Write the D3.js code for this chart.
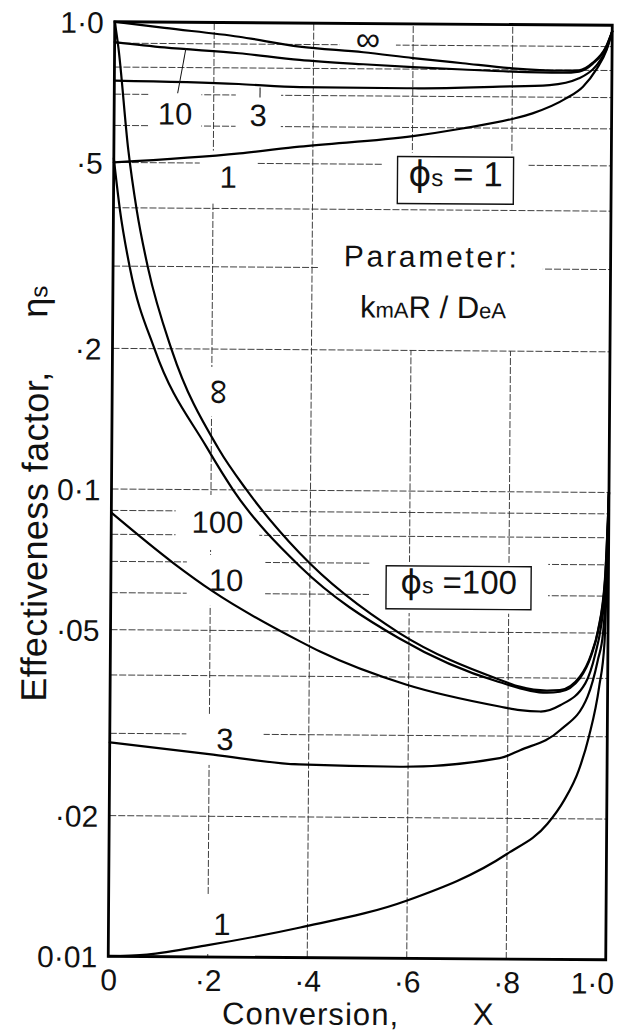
<!DOCTYPE html>
<html><head><meta charset="utf-8">
<script src="https://cdn.jsdelivr.net/npm/d3@7/dist/d3.min.js"></script>
<style>
html,body{margin:0;padding:0;background:#fff;}
svg{display:block;}
text{font-family:"Liberation Sans",Arial,sans-serif;fill:#111;}
</style></head><body>
<svg id="chart" width="626" height="1034" xmlns="http://www.w3.org/2000/svg"></svg>
<script>
// ===== Data =====
const xTickValues = [0, 0.2, 0.4, 0.6, 0.8, 1.0];
const xTickLabels = ["0", "·2", "·4", "·6", "·8", "1·0"];
const yTickValues = [1.0, 0.5, 0.2, 0.1, 0.05, 0.02, 0.01];
const yTickLabels = ["1·0", "·5", "·2", "0·1", "·05", "·02", "0·01"];
const yGridValues = [0.9, 0.8, 0.7, 0.6, 0.5, 0.4, 0.3, 0.2, 0.1, 0.09, 0.08, 0.07, 0.06, 0.05, 0.04, 0.03, 0.02];
const xGridValues = [0.2, 0.4, 0.6, 0.8];

// phi_s = 1 family, parameter kmA R / DeA
const phi1InfX   = [0, 0.1, 0.25, 0.372, 0.5, 0.6, 0.7, 0.8, 0.9, 0.934, 0.961, 0.988, 1.0];
const phi1InfEta = [1.0, 0.972, 0.933, 0.89, 0.868, 0.845, 0.825, 0.806, 0.798, 0.80, 0.83, 0.90, 0.97];
const phi1K10X   = [0, 0.1, 0.25, 0.372, 0.5, 0.6, 0.7, 0.8, 0.9, 0.934, 0.961, 0.988, 1.0];
const phi1K10Eta = [0.905, 0.883, 0.86, 0.834, 0.818, 0.808, 0.80, 0.793, 0.79, 0.795, 0.826, 0.897, 0.97];
const phi1K3X    = [0, 0.25, 0.373, 0.6, 0.774, 0.875, 0.934, 0.968, 0.988, 1.0];
const phi1K3Eta  = [0.748, 0.739, 0.729, 0.728, 0.736, 0.743, 0.769, 0.818, 0.885, 0.97];
const phi1K1X    = [0, 0.253, 0.373, 0.601, 0.70, 0.80, 0.841, 0.909, 0.942, 0.969, 0.989, 1.0];
const phi1K1Eta  = [0.5, 0.525, 0.544, 0.575, 0.598, 0.628, 0.646, 0.697, 0.738, 0.805, 0.885, 0.97];

// phi_s = 100 family
const phi100InfX    = [0, 0.0074, 0.029, 0.0467, 0.0705, 0.119, 0.214, 0.2715, 0.3795, 0.5815, 0.783, 0.823, 0.877, 0.904, 0.944, 0.967, 0.98, 0.993, 1.0];
const phi100InfEta  = [1.0, 0.885, 0.532, 0.396, 0.297, 0.199, 0.1227, 0.1, 0.0733, 0.0496, 0.0396, 0.0383, 0.0376, 0.0377, 0.0403, 0.0452, 0.0508, 0.065, 0.1];
const phi100K100X   = [0, 0.013, 0.034, 0.085, 0.19, 0.245, 0.38, 0.58, 0.78, 0.877, 0.904, 0.944, 0.967, 0.98, 0.993, 1.0];
const phi100K100Eta = [0.51, 0.396, 0.297, 0.199, 0.1236, 0.0998, 0.0687, 0.0484, 0.0392, 0.0372, 0.0374, 0.0400, 0.0449, 0.0505, 0.064, 0.1];
const phi100K10X    = [0, 0.126, 0.206, 0.381, 0.4215, 0.596, 0.783, 0.824, 0.865, 0.905, 0.955, 0.975, 0.985, 0.995, 1.0];
const phi100K10Eta  = [0.089, 0.0695, 0.0605, 0.0475, 0.0452, 0.0385, 0.0347, 0.0341, 0.0339, 0.035, 0.039, 0.0452, 0.051, 0.065, 0.1];
const phi100K3X     = [0, 0.208, 0.381, 0.5835, 0.784, 0.825, 0.906, 0.96, 0.98, 0.99, 0.996, 1.0];
const phi100K3Eta   = [0.0287, 0.0271, 0.0259, 0.0257, 0.0269, 0.028, 0.031, 0.0366, 0.0438, 0.05, 0.065, 0.1];
const phi100K1X     = [0, 0.078, 0.2, 0.3855, 0.6, 0.8006, 0.881, 0.914, 0.943, 0.963, 0.983, 0.993, 1.0];
const phi100K1Eta   = [0.01, 0.0101, 0.0106, 0.0116, 0.0133, 0.0168, 0.0195, 0.0219, 0.0254, 0.030, 0.0384, 0.0475, 0.1];

const series = [
  {X: phi1InfX, eta: phi1InfEta}, {X: phi1K10X, eta: phi1K10Eta},
  {X: phi1K3X, eta: phi1K3Eta}, {X: phi1K1X, eta: phi1K1Eta},
  {X: phi100InfX, eta: phi100InfEta}, {X: phi100K100X, eta: phi100K100Eta},
  {X: phi100K10X, eta: phi100K10Eta}, {X: phi100K3X, eta: phi100K3Eta},
  {X: phi100K1X, eta: phi100K1Eta}
];

// ===== Layout =====
const X0 = 111.5, X1 = 609, Y0 = 958, Y1 = 23.5;
const x = d3.scaleLinear().domain([0, 1]).range([X0, X1]);
const y = d3.scaleLog().domain([0.01, 1]).range([Y0, Y1]);

const svg = d3.select("#chart");
const root = svg.append("g").attr("transform", "rotate(0.4,360.5,490.75)");
const gridL = root.append("g");
const bgL = root.append("g");
const curveL = root.append("g");
const frameL = root.append("g");
const textL = root.append("g");

const gridStyle = s => s.attr("stroke", "#2a2a2a").attr("stroke-width", 0.9).attr("stroke-dasharray", "7,2");

gridL.selectAll("line.h").data(yGridValues).join("line").attr("class", "h")
  .attr("x1", X0).attr("x2", X1).attr("y1", d => y(d)).attr("y2", d => y(d)).call(gridStyle);

const vGap = {"0.6": [0.2, 0.47], "0.8": [0.2, 0.47]};
const vSegs = [];
xGridValues.forEach(v => {
  const gp = vGap[String(v)];
  if (gp) { vSegs.push([v, 0.01, gp[0]]); vSegs.push([v, gp[1], 1]); }
  else vSegs.push([v, 0.01, 1]);
});
gridL.selectAll("line.v").data(vSegs).join("line").attr("class", "v")
  .attr("x1", d => x(d[0])).attr("x2", d => x(d[0]))
  .attr("y1", d => y(d[1])).attr("y2", d => y(d[2])).call(gridStyle);

// curves
const line = d3.line().x(d => x(d[0])).y(d => y(d[1])).curve(d3.curveMonotoneX);
curveL.selectAll("path").data(series).join("path")
  .attr("d", s => line(d3.zip(s.X, s.eta)))
  .attr("fill", "none").attr("stroke", "#000").attr("stroke-width", 2.2)
  .attr("stroke-linejoin", "round").attr("stroke-linecap", "round");

// leader lines
const leaders = [
  {xa: 0.1274, ea: 0.7046, xb: 0.1435, eb: 0.88},
  {xa: 0.293, ea: 0.692, xb: 0.293, eb: 0.727}
];
curveL.selectAll("line.ld").data(leaders).join("line").attr("class", "ld")
  .attr("x1", d => x(d.xa)).attr("y1", d => y(d.ea)).attr("x2", d => x(d.xb)).attr("y2", d => y(d.eb))
  .attr("stroke", "#111").attr("stroke-width", 1);

// frame
frameL.append("rect").attr("x", X0).attr("y", Y1).attr("width", X1 - X0).attr("height", Y0 - Y1)
  .attr("fill", "none").attr("stroke", "#000").attr("stroke-width", 2.8);

// axes
const xAxis = d3.axisBottom(x).tickValues(xTickValues).tickFormat((d, i) => xTickLabels[i]).tickSize(0).tickPadding(0);
const gx = textL.append("g").attr("transform", `translate(0,${Y0})`).call(xAxis);
gx.select(".domain").remove();
gx.attr("font-size", 30).attr("font-family", null);
gx.selectAll("text").attr("y", 34).attr("dy", null);
gx.selectAll("text").filter((d, i) => i === xTickValues.length - 1).attr("text-anchor", "end").attr("x", 8);

const yAxis = d3.axisLeft(y).tickValues(yTickValues).tickFormat((d, i) => yTickLabels[i]).tickSize(0).tickPadding(11);
const gy = textL.append("g").attr("transform", `translate(${X0},0)`).call(yAxis);
gy.select(".domain").remove();
gy.attr("font-size", 30).attr("font-family", null);
gy.selectAll("text").attr("dy", "0.36em");

// curve labels (positions in data coordinates)
const curveLabels = [
  {t: "∞",   X: 0.509,  eta: 0.920,   size: 34, padX: 16, padY: 2, dy: "0.30em"},
  {t: "10",  X: 0.1224, eta: 0.638,   size: 31, padX: 9,  padY: 8},
  {t: "3",   X: 0.2898, eta: 0.635,   size: 31, padX: 14, padY: 8},
  {t: "1",   X: 0.2303, eta: 0.468,   size: 31, padX: 20, padY: 9},
  {t: "∞",   X: 0.2127, eta: 0.162,   size: 36, rot: -90, padX: 12, padY: 3, dy: "0.30em"},
  {t: "100", X: 0.2135, eta: 0.0854,  size: 31, padX: 16, padY: 10},
  {t: "10",  X: 0.2314, eta: 0.0642,  size: 31, padX: 22, padY: 8},
  {t: "3",   X: 0.2316, eta: 0.0293,  size: 31, padX: 30, padY: 8},
  {t: "1",   X: 0.2281, eta: 0.01177, size: 31, padX: 8,  padY: 12}
];
curveLabels.forEach(l => {
  const g = textL.append("g").attr("transform", `translate(${x(l.X)},${y(l.eta)}) rotate(${l.rot || 0})`);
  const t = g.append("text").attr("text-anchor", "middle").attr("dy", l.dy || "0.36em")
    .attr("font-size", l.size).text(l.t);
  const b = t.node().getBBox();
  bgL.append("rect").attr("transform", g.attr("transform"))
    .attr("x", b.x - l.padX).attr("y", b.y - l.padY)
    .attr("width", b.width + 2 * l.padX).attr("height", b.height + 2 * l.padY).attr("fill", "#fff");
});

// boxed annotations
const boxes = [
  {X: 0.687, eta: 0.463, main: 35, sub: 24, num: "1", w: 116, h: 47, gapX: 15},
  {X: 0.699, eta: 0.0622, main: 33, sub: 23, num: "100", w: 145, h: 43, gapX: 17}
];
boxes.forEach(bx => {
  const cx = x(bx.X), cy = y(bx.eta);
  bgL.append("rect").attr("x", cx - bx.w / 2 - bx.gapX).attr("y", cy - bx.h / 2 - 4)
    .attr("width", bx.w + 2 * bx.gapX).attr("height", bx.h + 8).attr("fill", "#fff");
  bgL.append("rect").attr("x", cx - bx.w / 2).attr("y", cy - bx.h / 2)
    .attr("width", bx.w).attr("height", bx.h).attr("fill", "#fff")
    .attr("stroke", "#111").attr("stroke-width", 1.4);
  const t = textL.append("text").attr("x", cx).attr("y", cy).attr("dy", "0.36em").attr("text-anchor", "middle");
  t.append("tspan").attr("font-size", bx.main).attr("font-family", "DejaVu Sans").text("ϕ");
  t.append("tspan").attr("font-size", bx.sub).text("s");
  t.append("tspan").attr("font-size", bx.main).text(bx.num === "1" ? " =  1" : " =100");
});

// Parameter text
const pX = 0.6378, pEta = 0.302, kX = 0.6438, kEta = 0.2349;
{
  const t = textL.append("text").attr("x", x(pX)).attr("y", y(pEta)).attr("text-anchor", "middle")
    .attr("font-size", 30).attr("textLength", 173).attr("lengthAdjust", "spacing").text("Parameter:");
  const b = t.node().getBBox();
  bgL.append("rect").attr("x", b.x - 26).attr("y", b.y - 4).attr("width", b.width + 52).attr("height", b.height + 8).attr("fill", "#fff");
  const k = textL.append("text").attr("x", x(kX)).attr("y", y(kEta)).attr("text-anchor", "middle");
  k.append("tspan").attr("font-size", 31).text("k");
  k.append("tspan").attr("font-size", 22).text("mA");
  k.append("tspan").attr("font-size", 31).text("R / D");
  k.append("tspan").attr("font-size", 22).text("eA");
}

// axis titles
textL.append("text").attr("x", 225.8).attr("y", 1025).attr("font-size", 31)
  .attr("textLength", 176).attr("lengthAdjust", "spacing").text("Conversion,");
textL.append("text").attr("x", 486.8).attr("y", 1024).attr("font-size", 31).attr("text-anchor", "middle").text("X");

textL.append("text").attr("transform", "translate(47.5,704) rotate(-90)").attr("font-size", 36)
  .attr("textLength", 330).attr("lengthAdjust", "spacing").text("Effectiveness factor,");
const eta = textL.append("text").attr("transform", "translate(46,320) rotate(-90)").attr("font-size", 36);
eta.append("tspan").text("η");
eta.append("tspan").attr("font-size", 24).text("s");
</script>
</body></html>
